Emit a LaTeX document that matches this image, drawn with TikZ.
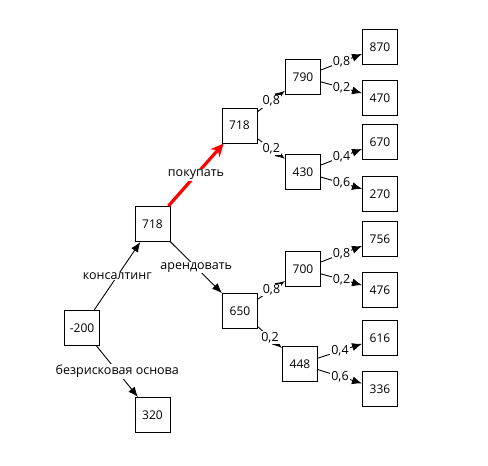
\documentclass[tikz,border=0pt]{standalone}
\usepackage{fontspec}
\setmainfont{Open Sans}
\usetikzlibrary{arrows.meta}
\begin{document}
\begin{tikzpicture}[x=1pt,y=-1pt,
  box/.style={draw,line width=1pt,minimum width=35pt,minimum height=35pt,inner sep=0pt,font=\fontsize{12}{14}\selectfont},
  edge/.style={draw,line width=0.9pt,-{Latex[length=10pt,width=8pt]}},
  buy/.style={draw=red,line width=3.2pt,-{Stealth[length=13pt,width=12pt]}},
  lbl/.style={fill=white,inner sep=1pt,font=\fontsize{12.5}{14}\selectfont}]
\useasboundingbox (0,0) rectangle (488,466);
\node[box] (n0) at (82,328) {-200};
\node[box] (a) at (152.5,224) {718};
\node[box] (b) at (152.5,415) {320};
\node[box] (c) at (239.5,125.5) {718};
\node[box] (d) at (240,311) {650};
\node[box] (e) at (303,77) {790};
\node[box] (f) at (303,172) {430};
\node[box] (g) at (303,269) {700};
\node[box] (h) at (300,364) {448};
\node[box] (l1) at (380,47) {870};
\node[box] (l2) at (380,98) {470};
\node[box] (l3) at (380,142) {670};
\node[box] (l4) at (380,194) {270};
\node[box] (l5) at (380,239) {756};
\node[box] (l6) at (380,290) {476};
\node[box] (l7) at (380,338) {616};
\node[box] (l8) at (380,389) {336};
\draw[edge] (n0) -- node[lbl]{консалтинг} (a);
\draw[edge] (n0) -- node[lbl]{безрисковая основа} (b);
\draw[edge] (a) -- node[lbl]{арендовать} (d);
\draw[buy] (a) -- node[lbl]{покупать} (c);
\draw[edge] (c) -- node[lbl]{0,8} (e);
\draw[edge] (c) -- node[lbl]{0,2} (f);
\draw[edge] (d) -- node[lbl]{0,8} (g);
\draw[edge] (d) -- node[lbl]{0,2} (h);
\draw[edge] (e) -- node[lbl]{0,8} (l1);
\draw[edge] (e) -- node[lbl]{0,2} (l2);
\draw[edge] (f) -- node[lbl]{0,4} (l3);
\draw[edge] (f) -- node[lbl]{0,6} (l4);
\draw[edge] (g) -- node[lbl]{0,8} (l5);
\draw[edge] (g) -- node[lbl]{0,2} (l6);
\draw[edge] (h) -- node[lbl]{0,4} (l7);
\draw[edge] (h) -- node[lbl]{0,6} (l8);
\end{tikzpicture}
\end{document}
